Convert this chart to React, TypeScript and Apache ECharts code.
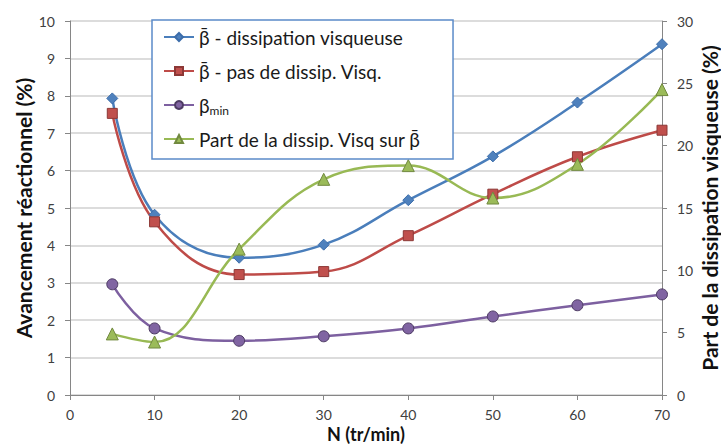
import React, { useEffect, useRef } from "react";
import * as echarts from "echarts";

const nValues = [5, 10, 20, 30, 40, 50, 60, 70];
const betaVisc = [7.93, 4.82, 3.67, 4.02, 5.21, 6.38, 7.82, 9.38];
const betaNoVisc = [7.53, 4.63, 3.22, 3.3, 4.26, 5.37, 6.37, 7.08];
const betaMin = [2.96, 1.78, 1.45, 1.57, 1.78, 2.1, 2.4, 2.69];
const partVisc = [4.9, 4.25, 11.7, 17.3, 18.4, 15.8, 18.5, 24.5];

const seriesNames = [
  "β̄ - dissipation visqueuse",
  "β̄ - pas de dissip. Visq.",
  "βmin",
  "Part de la dissip. Visq sur β̄",
];

const FONT = "Lato";

export default function App() {
  const ref = useRef<HTMLDivElement>(null);
  useEffect(() => {
    if (!ref.current) return;
    const chart = echarts.init(ref.current, undefined, { renderer: "svg" });
    const pair = (ys: number[]) => nValues.map((x, i) => [x, ys[i]]);
    const labelColor = "#404040";
    const axisGray = "#868686";
    chart.setOption({
      animation: false,
      textStyle: { fontFamily: FONT },
      grid: { left: 70, right: 59, top: 21, bottom: 51, outerBoundsMode: "none", containLabel: false },
      legend: {
        orient: "vertical",
        left: 152,
        top: 20,
        backgroundColor: "#fff",
        borderColor: "#5B8BC9",
        borderWidth: 1.5,
        borderRadius: 0,
        padding: [6, 32, 9, 11],
        itemGap: 12,
        itemWidth: 30,
        itemHeight: 10,
        data: seriesNames,
        formatter: (name: string) => (name === "βmin" ? "{b|β}{s|min}" : "{b|" + name + "}"),
        textStyle: {
          fontFamily: FONT,
          fontSize: 19,
          lineHeight: 22,
          color: "#1a1a1a",
          rich: {
            b: { fontFamily: FONT, fontSize: 19, lineHeight: 22, color: "#1a1a1a" },
            s: { fontFamily: FONT, fontSize: 12, lineHeight: 12, verticalAlign: "bottom", color: "#1a1a1a" },
          },
        },
      },
      xAxis: {
        type: "value",
        min: 0,
        max: 70,
        interval: 10,
        name: "N (tr/min)",
        nameLocation: "middle",
        nameGap: 30,
        nameMoveOverlap: false,
        nameTextStyle: { fontFamily: FONT, fontSize: 18, lineHeight: 18, fontWeight: "bold", color: "#111" },
        axisLine: { lineStyle: { color: axisGray, width: 1 } },
        axisTick: { show: true, length: 5, lineStyle: { color: axisGray } },
        axisLabel: { fontFamily: FONT, fontSize: 14, lineHeight: 14, color: labelColor, margin: 12 },
        splitLine: { show: false },
      },
      yAxis: [
        {
          type: "value",
          min: 0,
          max: 10,
          interval: 1,
          name: "Avancement réactionnel (%)",
          nameLocation: "middle",
          nameRotate: 90,
          nameGap: 36,
          nameMoveOverlap: false,
          nameTextStyle: { fontFamily: FONT, fontSize: 21, fontWeight: "bold", color: "#111" },
          axisLine: { show: true, lineStyle: { color: axisGray } },
          axisTick: { show: true, length: 5, lineStyle: { color: axisGray } },
          axisLabel: { fontFamily: FONT, fontSize: 14, color: labelColor, margin: 15 },
          splitLine: { show: true, lineStyle: { color: "#d0d0d0", width: 1.5 } },
        },
        {
          type: "value",
          min: 0,
          max: 30,
          interval: 5,
          name: "Part de la dissipation visqueuse (%)",
          nameLocation: "middle",
          nameRotate: 90,
          nameGap: 37,
          nameMoveOverlap: false,
          nameTextStyle: { fontFamily: FONT, fontSize: 21, lineHeight: 20, fontWeight: "bold", color: "#111" },
          axisLine: { show: true, lineStyle: { color: axisGray } },
          axisTick: { show: true, length: 5, lineStyle: { color: axisGray } },
          axisLabel: { fontFamily: FONT, fontSize: 14, color: labelColor, margin: 15 },
          splitLine: { show: false },
        },
      ],
      series: [
        {
          name: seriesNames[0],
          type: "line",
          smooth: 0.4,
          data: pair(betaVisc),
          symbol: "diamond",
          symbolSize: 11,
          lineStyle: { color: "#4A7EBB", width: 2.5 },
          itemStyle: { color: "#4F81BD", borderColor: "#3C6DAA", borderWidth: 1 },
          z: 3,
        },
        {
          name: seriesNames[1],
          type: "line",
          smooth: 0.4,
          data: pair(betaNoVisc),
          symbol: "rect",
          symbolSize: 10,
          lineStyle: { color: "#BE4B48", width: 2.5 },
          itemStyle: { color: "#C0504D", borderColor: "#8C3836", borderWidth: 1 },
          z: 3,
        },
        {
          name: seriesNames[2],
          type: "line",
          smooth: 0.4,
          data: pair(betaMin),
          symbol: "circle",
          symbolSize: 11,
          lineStyle: { color: "#7D60A0", width: 2.5 },
          itemStyle: { color: "#8064A2", borderColor: "#4D3B63", borderWidth: 1 },
          z: 3,
        },
        {
          name: seriesNames[3],
          type: "line",
          yAxisIndex: 1,
          smooth: 0.4,
          data: pair(partVisc),
          symbol: "triangle",
          symbolSize: 12,
          lineStyle: { color: "#98B954", width: 2.5 },
          itemStyle: { color: "#9BBB59", borderColor: "#71893F", borderWidth: 1 },
          z: 3,
        },
      ],
    });
    return () => chart.dispose();
  }, []);
  return <div ref={ref} style={{ width: 721, height: 446, position: "absolute", left: 0, top: 0 }} />;
}
